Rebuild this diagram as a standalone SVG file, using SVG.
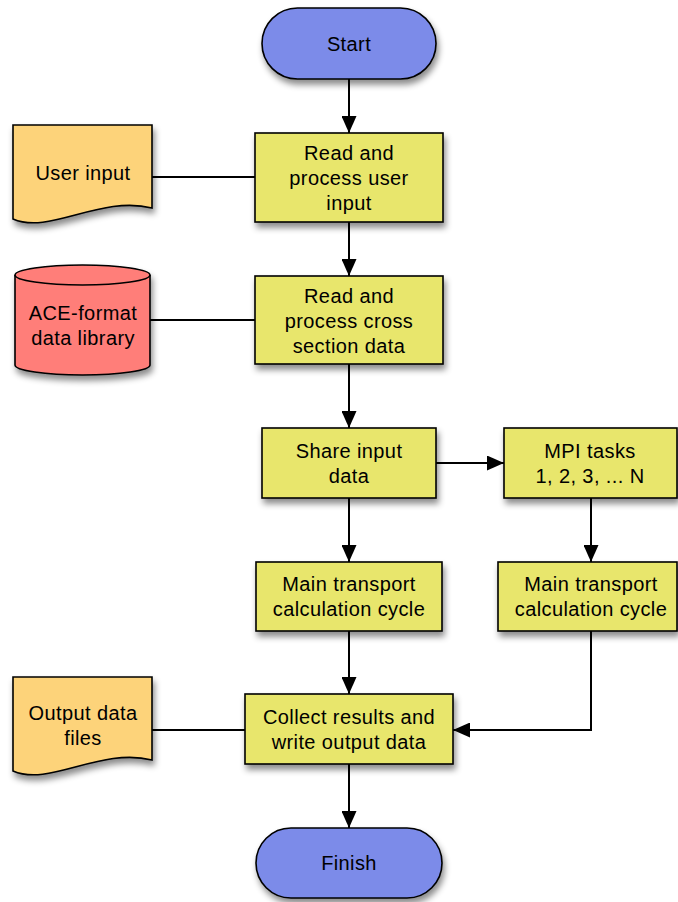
<svg xmlns="http://www.w3.org/2000/svg" width="678" height="902" viewBox="0 0 678 902">
<defs>
<filter id="sh" x="-20%" y="-20%" width="150%" height="160%">
<feDropShadow dx="2" dy="5" stdDeviation="3" flood-color="#000" flood-opacity="0.45"/>
</filter>
<marker id="ah" markerUnits="userSpaceOnUse" markerWidth="17" markerHeight="15" refX="17" refY="7.5" orient="auto">
<path d="M0,0 L17,7.5 L0,15 z" fill="#000"/>
</marker>
<style>
.t{font-family:"Liberation Sans",Arial,Helvetica,sans-serif;font-size:20px;letter-spacing:0.4px;fill:#000;text-anchor:middle}
.proc{fill:#E8E66C;stroke:#000;stroke-width:1.6}
.term{fill:#7B8BE9;stroke:#000;stroke-width:1.6}
.doc{fill:#FDD37A;stroke:#000;stroke-width:1.6}
.db{fill:#FF7E79;stroke:#000;stroke-width:1.6}
.c{stroke:#000;stroke-width:2;fill:none}
.a{marker-end:url(#ah)}
</style>
</defs>
<rect width="678" height="902" fill="#fff"/>
<g id="connectors">
<line class="c a" x1="349" y1="79" x2="349" y2="133"/>
<line class="c a" x1="349" y1="222" x2="349" y2="276"/>
<line class="c a" x1="349" y1="364" x2="349" y2="428"/>
<line class="c a" x1="436" y1="463" x2="504" y2="463"/>
<line class="c a" x1="349" y1="498" x2="349" y2="562"/>
<line class="c a" x1="591" y1="498" x2="591" y2="562"/>
<line class="c a" x1="349" y1="631" x2="349" y2="694"/>
<path class="c a" d="M591,631 V730 H453"/>
<line class="c a" x1="349" y1="764" x2="349" y2="828"/>
<line class="c" x1="152" y1="177" x2="255" y2="177" stroke-width="1.6"/>
<line class="c" x1="150" y1="320" x2="255" y2="320" stroke-width="1.6"/>
<line class="c" x1="152" y1="730" x2="245" y2="730" stroke-width="1.6"/>
</g>
<g id="start">
<rect class="term" x="262" y="8" width="174" height="71" rx="35.5" filter="url(#sh)"/>
<text class="t" x="349" y="51">Start</text>
</g>
<g id="read-user">
<rect class="proc" x="255" y="133" width="188" height="89" filter="url(#sh)"/>
<text class="t" x="349" y="160">Read and</text>
<text class="t" x="349" y="185">process user</text>
<text class="t" x="349" y="210">input</text>
</g>
<g id="user-input">
<path class="doc" d="M13,125 H152 V208 C100,195 50,235 13,219 Z" filter="url(#sh)"/>
<text class="t" x="83" y="180">User input</text>
</g>
<g id="read-cross">
<rect class="proc" x="255" y="276" width="188" height="88" filter="url(#sh)"/>
<text class="t" x="349" y="303">Read and</text>
<text class="t" x="349" y="328">process cross</text>
<text class="t" x="349" y="353">section data</text>
</g>
<g id="ace-library">
<path class="db" d="M15,275 A67.5,10 0 0 1 150,275 V365 A67.5,10 0 0 1 15,365 Z" filter="url(#sh)"/>
<path d="M15,275 A67.5,10 0 0 0 150,275" fill="none" stroke="#000" stroke-width="1.6"/>
<text class="t" x="83" y="320">ACE-format</text>
<text class="t" x="83" y="345">data library</text>
</g>
<g id="share">
<rect class="proc" x="262" y="428" width="174" height="70" filter="url(#sh)"/>
<text class="t" x="349" y="458">Share input</text>
<text class="t" x="349" y="483">data</text>
</g>
<g id="mpi">
<rect class="proc" x="504" y="428" width="173" height="70" filter="url(#sh)"/>
<text class="t" x="590" y="458">MPI tasks</text>
<text class="t" x="590" y="483">1, 2, 3, ... N</text>
</g>
<g id="main-left">
<rect class="proc" x="256" y="562" width="186" height="69" filter="url(#sh)"/>
<text class="t" x="349" y="591">Main transport</text>
<text class="t" x="349" y="616">calculation cycle</text>
</g>
<g id="main-right">
<rect class="proc" x="498" y="562" width="179" height="69" filter="url(#sh)"/>
<text class="t" x="591" y="591">Main transport</text>
<text class="t" x="591" y="616">calculation cycle</text>
</g>
<g id="collect">
<rect class="proc" x="245" y="694" width="208" height="70" filter="url(#sh)"/>
<text class="t" x="349" y="724">Collect results and</text>
<text class="t" x="349" y="749">write output data</text>
</g>
<g id="output-files">
<path class="doc" d="M13,677 H152 V760 C100,747 50,787 13,771 Z" filter="url(#sh)"/>
<text class="t" x="83" y="720">Output data</text>
<text class="t" x="83" y="745">files</text>
</g>
<g id="finish">
<rect class="term" x="256" y="828" width="186" height="70" rx="35" filter="url(#sh)"/>
<text class="t" x="349" y="870">Finish</text>
</g>
</svg>
